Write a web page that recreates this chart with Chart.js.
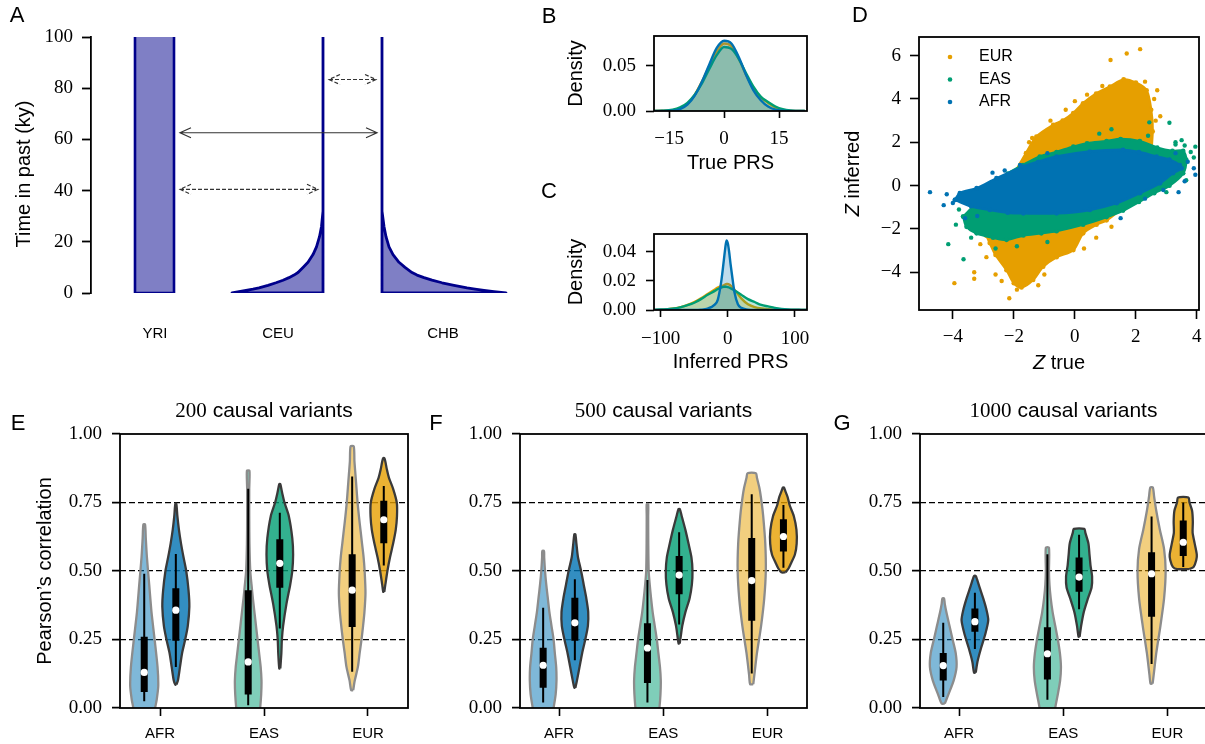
<!DOCTYPE html>
<html>
<head>
<meta charset="utf-8">
<script src="https://cdn.jsdelivr.net/npm/chart.js@4.4.0/dist/chart.umd.min.js"></script>
<style>
  body { margin: 0; background: #fff; width: 1205px; height: 744px; overflow: hidden; position: relative; }
  canvas { position: absolute; left: 0; top: 0; }
</style>
</head>
<body>
<canvas id="cA" width="1220" height="744"></canvas>
<canvas id="cB" width="1220" height="744"></canvas>
<canvas id="cC" width="1220" height="744"></canvas>
<canvas id="cD" width="1220" height="744"></canvas>
<canvas id="cE" width="1220" height="744"></canvas>
<canvas id="cF" width="1220" height="744"></canvas>
<canvas id="cG" width="1220" height="744"></canvas>
<script>
// ---------- data ----------
// A: demographic model (sizes in arbitrary width units, time in ky)
const popNames = ['YRI', 'CEU', 'CHB'];
const popLabelX = [64, 187, 352];
const yriEdges = [44, 83];
const ceuEdge = 232;
const chbEdge = 291;
const growthT = [0, 0.5, 1, 1.5, 2, 3, 4, 5, 6, 7, 8, 10, 12, 15, 18, 22, 26, 32, 100];
const ceuWidth = [91, 84, 77, 70, 64, 55, 47, 40, 34, 29, 25, 20, 15, 10, 6.5, 3.5, 1.5, 0, 0];
const chbWidth = [124, 112, 102, 93, 85, 72, 60, 50, 42, 35, 30, 23, 17, 11, 7, 4, 2, 0, 0];
const timeTicks = [0, 20, 40, 60, 80, 100];
const arrowY = [62.6, 40.5, 83.4];
const arrowFrom = [89, 89, 238];
const arrowTo = [286, 227, 285];
const arrowDashed = [false, true, true];

// B: true PRS densities
const bX = [-20, -17, -14, -12, -10, -8, -6, -4, -2, 0, 2, 4, 6, 8, 10, 12, 14, 16, 18, 20, 22];
const bAFR = [0, 0, 0.0003, 0.002, 0.007, 0.017, 0.033, 0.052, 0.07, 0.078, 0.075, 0.06, 0.04, 0.023, 0.012, 0.005, 0.0015, 0.0003, 0, 0, 0];
const bEAS = [0, 0.0003, 0.0015, 0.004, 0.009, 0.018, 0.031, 0.047, 0.062, 0.071, 0.069, 0.058, 0.042, 0.027, 0.016, 0.01, 0.005, 0.002, 0.0005, 0.0001, 0];
const bEUR = [0, 0.0002, 0.001, 0.003, 0.008, 0.018, 0.033, 0.05, 0.066, 0.075, 0.072, 0.058, 0.04, 0.025, 0.015, 0.009, 0.004, 0.001, 0.0003, 0, 0];
const bTicksX = [-15, 0, 15];
const bTicksY = [0, 0.05];

// C: inferred PRS densities
const cX = [-110, -100, -90, -80, -70, -60, -50, -40, -30, -20, -15, -10, -6, -4, -2, 0, 2, 4, 6, 10, 15, 20, 30, 40, 50, 60, 70, 80, 90, 100, 110, 118];
const cAFR = [0, 0, 0, 0, 0, 0, 0, 0.0002, 0.001, 0.0035, 0.007, 0.019, 0.034, 0.042, 0.048, 0.046, 0.04, 0.032, 0.025, 0.012, 0.004, 0.0015, 0.0003, 0, 0, 0, 0, 0, 0, 0, 0, 0];
const cEAS = [0.0001, 0.0003, 0.0006, 0.001, 0.002, 0.0033, 0.005, 0.0075, 0.0105, 0.013, 0.0145, 0.0155, 0.016, 0.016, 0.016, 0.0158, 0.0155, 0.015, 0.0145, 0.0135, 0.012, 0.0105, 0.0075, 0.0055, 0.0035, 0.0025, 0.0015, 0.0008, 0.0004, 0.0002, 0.0001, 0];
const cEUR = [0, 0.0002, 0.0005, 0.001, 0.002, 0.0035, 0.0055, 0.008, 0.011, 0.014, 0.0155, 0.0165, 0.017, 0.0175, 0.018, 0.018, 0.0175, 0.017, 0.016, 0.014, 0.011, 0.008, 0.004, 0.002, 0.001, 0.0005, 0.0002, 0, 0, 0, 0, 0];
const cTicksX = [-100, 0, 100];
const cTicksY = [0, 0.02, 0.04];

// D: Z true vs Z inferred, outline of each dense cloud plus its stray points
const eurCloud = [[-2.9, -2.3], [-2.79, -2.65], [-2.6, -3.2], [-2.24, -3.9], [-2.0, -4.5], [-1.75, -4.7], [-1.37, -4.35], [-1.04, -3.74], [-0.6, -3.3], [-0.05, -2.97], [0.27, -2.2], [0.71, -1.8], [1.04, -1.6], [1.5, -1.1], [1.9, -0.6], [2.3, 0.2], [2.45, 1], [2.55, 2.5], [2.5, 3.5], [2.35, 4.4], [2.0, 4.75], [1.6, 4.9], [1.15, 4.57], [0.7, 4.25], [0.27, 3.8], [-0.05, 3.35], [-0.4, 3.0], [-0.71, 2.8], [-1.26, 2.26], [-1.6, 1.5], [-2.0, 0.5], [-2.4, -0.8], [-2.8, -1.8]];
const easCloud = [[-3.66, -1.43], [-3.55, -1.9], [-3.22, -2.2], [-2.68, -2.4], [-2.24, -2.5], [-1.69, -2.3], [-1.1, -2.2], [-0.6, -2.1], [0.27, -1.8], [1.04, -1.45], [1.58, -1.15], [2.1, -0.75], [2.6, -0.35], [3.1, 0.0], [3.55, 0.57], [3.65, 1.2], [3.55, 1.6], [3.2, 1.6], [2.7, 1.75], [2.13, 2.05], [1.5, 2.15], [1.04, 2.05], [0.4, 1.95], [-0.05, 1.8], [-0.6, 1.55], [-1.15, 1.34], [-1.7, 0.95], [-2.2, 0.55], [-2.7, 0.0], [-3.22, -0.8]];
const afrCloud = [[-3.93, -0.66], [-3.4, -0.95], [-2.79, -1.12], [-2.2, -1.25], [-1.69, -1.28], [-0.6, -1.28], [0.49, -1.12], [1.37, -0.81], [2.13, -0.35], [2.79, 0.11], [3.22, 0.58], [3.5, 0.8], [3.44, 0.95], [3.1, 1.2], [2.68, 1.34], [2.1, 1.55], [1.58, 1.65], [0.49, 1.57], [-0.6, 1.34], [-1.2, 1.1], [-1.69, 0.88], [-2.57, 0.34], [-3.22, -0.12], [-3.77, -0.35]];
const eurStray = [[1.17, 5.8], [1.7, 6.1], [2.14, 6.3], [2.7, 4.4], [2.6, 4.0], [2.3, 4.8], [2.65, 3.0], [-3.95, -4.5], [-3.3, -4.0], [-3.3, -4.3], [-2.15, -5.2], [-1.2, -4.6], [-1.9, -4.8], [-2.6, -4.1], [-2.9, -3.3], [-3.1, -2.7], [0.3, -2.9], [0.7, -2.4], [1.2, -1.9], [-1.4, 2.2], [-1.5, 2.0], [-0.8, 3.0], [-0.3, 3.5], [0.0, 3.9], [0.4, 4.2], [0.9, 4.6], [2.8, 3.2], [-1.0, -4.1], [-2.4, -4.4]];
const easStray = [[-4.15, -2.7], [-3.65, -3.4], [3.1, 2.9], [3.65, 0.25], [3.8, 1.55], [2.44, 2.92], [3.3, 2.0], [-3.4, -2.4], [-2.6, -2.9], [1.2, 2.6], [3.9, 1.3], [-3.9, -1.8], [-3.8, -1.1], [3.5, 2.1], [3.95, 1.8], [-1.9, -2.8], [-0.9, -2.6], [2.4, 2.3], [0.8, 2.4], [3.0, -0.3], [-2.9, -0.2], [3.6, 1.85], [3.3, 1.9]];
const afrStray = [[-4.75, -0.3], [3.9, 0.8], [-4.0, -0.8], [-4.2, -0.4], [-3.6, -1.5], [3.6, 0.2], [-2.7, 0.6], [1.5, -1.5], [2.3, -0.6], [3.3, 1.5], [-1.8, 0.95], [3.7, 1.1], [3.95, 0.5], [-4.3, -0.9], [-3.2, -1.4], [2.9, -0.2], [-0.9, 1.5], [3.4, -0.3], [-2.3, 0.7]];
const dTicksX = [-4, -2, 0, 2, 4];
const dTicksY = [-4, -2, 0, 2, 4, 6];
const dLegend = ['EUR', 'EAS', 'AFR'];

// E-G: Pearson's correlation violins; order AFR(inferred, true), EAS(..), EUR(..)
// each outline as [correlation, half width in category units], box as [low, q1, median, q3, high]
const groups = ['AFR', 'EAS', 'EUR'];
const variantCounts = ['200', '500', '1000'];
const corrTicks = [0, 0.25, 0.5, 0.75, 1];

const shapeE = [
  [[-0.05, 0.09], [0, 0.105], [0.03, 0.12], [0.08, 0.135], [0.15, 0.128], [0.25, 0.1], [0.35, 0.07], [0.45, 0.048], [0.55, 0.026], [0.62, 0.015], [0.67, 0.008]],
  [[0.085, 0.005], [0.1, 0.02], [0.15, 0.04], [0.2, 0.06], [0.25, 0.09], [0.3, 0.115], [0.37, 0.13], [0.43, 0.122], [0.5, 0.1], [0.55, 0.074], [0.6, 0.05], [0.65, 0.03], [0.7, 0.015], [0.745, 0.005]],
  [[-0.05, 0.1], [0, 0.115], [0.05, 0.125], [0.1, 0.128], [0.15, 0.12], [0.2, 0.105], [0.25, 0.09], [0.3, 0.075], [0.35, 0.06], [0.4, 0.045], [0.45, 0.032], [0.5, 0.02], [0.6, 0.012], [0.7, 0.01], [0.8, 0.01], [0.866, 0.012]],
  [[0.144, 0.005], [0.2, 0.015], [0.25, 0.02], [0.3, 0.032], [0.38, 0.064], [0.45, 0.1], [0.5, 0.12], [0.56, 0.128], [0.62, 0.12], [0.7, 0.087], [0.75, 0.045], [0.79, 0.02], [0.817, 0.005]],
  [[0.065, 0.01], [0.1, 0.025], [0.15, 0.055], [0.2, 0.072], [0.25, 0.09], [0.3, 0.105], [0.35, 0.118], [0.42, 0.128], [0.5, 0.12], [0.55, 0.11], [0.6, 0.095], [0.65, 0.08], [0.7, 0.065], [0.75, 0.052], [0.8, 0.042], [0.85, 0.032], [0.9, 0.022], [0.955, 0.015]],
  [[0.424, 0.005], [0.45, 0.015], [0.5, 0.035], [0.55, 0.06], [0.6, 0.09], [0.65, 0.115], [0.7, 0.127], [0.75, 0.125], [0.8, 0.09], [0.84, 0.05], [0.87, 0.03], [0.9, 0.015], [0.912, 0.005]]
];
const boxE = [[0.025, 0.058, 0.13, 0.26, 0.49], [0.15, 0.245, 0.357, 0.437, 0.562], [0.01, 0.049, 0.168, 0.43, 0.8],
  [0.29, 0.439, 0.528, 0.616, 0.713], [0.132, 0.296, 0.43, 0.561, 0.845], [0.52, 0.601, 0.687, 0.756, 0.81]];

const shapeF = [
  [[-0.05, 0.08], [0, 0.1], [0.05, 0.12], [0.1, 0.128], [0.15, 0.125], [0.2, 0.112], [0.25, 0.1], [0.3, 0.08], [0.35, 0.06], [0.4, 0.045], [0.45, 0.03], [0.5, 0.018], [0.55, 0.01], [0.573, 0.008]],
  [[0.074, 0.005], [0.1, 0.02], [0.15, 0.045], [0.2, 0.07], [0.25, 0.1], [0.3, 0.125], [0.35, 0.128], [0.4, 0.11], [0.45, 0.085], [0.5, 0.06], [0.55, 0.03], [0.6, 0.015], [0.634, 0.005]],
  [[-0.05, 0.1], [0, 0.115], [0.05, 0.125], [0.1, 0.128], [0.15, 0.12], [0.2, 0.105], [0.25, 0.09], [0.3, 0.07], [0.35, 0.05], [0.4, 0.035], [0.45, 0.022], [0.5, 0.012], [0.6, 0.008], [0.7, 0.007], [0.744, 0.007]],
  [[0.235, 0.005], [0.26, 0.015], [0.3, 0.03], [0.35, 0.06], [0.4, 0.1], [0.45, 0.122], [0.5, 0.128], [0.55, 0.118], [0.6, 0.09], [0.65, 0.06], [0.7, 0.025], [0.726, 0.006]],
  [[0.087, 0.015], [0.12, 0.025], [0.2, 0.05], [0.3, 0.09], [0.4, 0.12], [0.5, 0.135], [0.6, 0.13], [0.7, 0.11], [0.75, 0.095], [0.8, 0.075], [0.84, 0.05], [0.857, 0.04]],
  [[0.495, 0.02], [0.51, 0.05], [0.53, 0.075], [0.56, 0.11], [0.6, 0.127], [0.65, 0.125], [0.7, 0.1], [0.74, 0.06], [0.77, 0.04], [0.79, 0.02], [0.805, 0.005]]
];
const boxF = [[0.02, 0.074, 0.156, 0.22, 0.366], [0.174, 0.245, 0.311, 0.402, 0.47], [0.02, 0.091, 0.219, 0.309, 0.467],
  [0.305, 0.415, 0.485, 0.555, 0.641], [0.126, 0.318, 0.465, 0.62, 0.78], [0.512, 0.571, 0.626, 0.689, 0.741]];

const shapeG = [
  [[0.016, 0.015], [0.05, 0.05], [0.1, 0.1], [0.15, 0.128], [0.2, 0.12], [0.25, 0.09], [0.3, 0.06], [0.35, 0.03], [0.38, 0.015], [0.4, 0.008]],
  [[0.129, 0.008], [0.17, 0.025], [0.22, 0.06], [0.27, 0.1], [0.32, 0.128], [0.36, 0.11], [0.4, 0.08], [0.44, 0.045], [0.47, 0.02], [0.482, 0.008]],
  [[-0.05, 0.06], [0, 0.075], [0.05, 0.1], [0.1, 0.122], [0.15, 0.13], [0.2, 0.12], [0.25, 0.1], [0.3, 0.075], [0.35, 0.05], [0.4, 0.032], [0.45, 0.02], [0.5, 0.015], [0.585, 0.015]],
  [[0.26, 0.005], [0.3, 0.02], [0.35, 0.045], [0.4, 0.085], [0.44, 0.12], [0.48, 0.125], [0.52, 0.11], [0.56, 0.1], [0.6, 0.09], [0.64, 0.06], [0.654, 0.05]],
  [[0.089, 0.01], [0.12, 0.02], [0.2, 0.045], [0.3, 0.085], [0.4, 0.12], [0.5, 0.135], [0.58, 0.12], [0.65, 0.08], [0.72, 0.045], [0.77, 0.025], [0.805, 0.012]],
  [[0.507, 0.06], [0.515, 0.1], [0.54, 0.125], [0.56, 0.13], [0.6, 0.11], [0.64, 0.09], [0.68, 0.092], [0.72, 0.085], [0.75, 0.06], [0.768, 0.05]]
];
const boxG = [[0.04, 0.1, 0.155, 0.201, 0.311], [0.215, 0.278, 0.315, 0.363, 0.421], [0.03, 0.104, 0.198, 0.295, 0.561],
  [0.36, 0.424, 0.478, 0.549, 0.632], [0.161, 0.333, 0.49, 0.568, 0.699], [0.515, 0.555, 0.605, 0.684, 0.75]];

// ---------- style ----------
const W = 1220, H = 744;
const SANS = '"Liberation Sans", Arial, sans-serif';
const SERIF = '"Liberation Serif", "Times New Roman", serif';
const colAFR = '#0072B2', colEAS = '#009E73', colEUR = '#E69F00';
const lightFill = ['rgba(0,114,178,0.5)', 'rgba(0,158,115,0.5)', 'rgba(230,159,0,0.5)'];
const darkFill = ['rgba(0,114,178,0.8)', 'rgba(0,158,115,0.8)', 'rgba(230,159,0,0.8)'];
const navy = '#00008B';
const minus = v => (v < 0 ? '\u2212' + Math.abs(v) : String(v));

Chart.defaults.color = '#000';
Chart.defaults.elements.point.radius = 0;
Chart.defaults.elements.line.tension = 0;

// free text (panel letters, axis titles with mixed fonts)
function textPlugin(items) {
  return {
    id: 'texts',
    afterDraw(chart) {
      const ctx = chart.ctx;
      items.forEach(it => {
        ctx.save();
        ctx.translate(it.x, it.y);
        if (it.rot) ctx.rotate(it.rot);
        ctx.fillStyle = '#000';
        ctx.textBaseline = 'middle';
        ctx.textAlign = 'left';
        const widths = it.parts.map(p => { ctx.font = p[1]; return ctx.measureText(p[0]).width; });
        let x = -widths.reduce((a, b) => a + b, 0) / 2;
        it.parts.forEach((p, i) => { ctx.font = p[1]; ctx.fillText(p[0], x, 0); x += widths[i]; });
        ctx.restore();
      });
    }
  };
}

// box around the plotting area
const framePlugin = {
  id: 'frame',
  afterDraw(chart) {
    const { left, right, top, bottom } = chart.chartArea;
    const ctx = chart.ctx;
    ctx.save();
    ctx.strokeStyle = '#000';
    ctx.lineWidth = 1.8;
    ctx.strokeRect(left, top, right - left, bottom - top);
    ctx.restore();
  }
};

function tickAxis(ticks, fmt, font, pad, extra) {
  return Object.assign({
    type: 'linear',
    afterBuildTicks: s => { s.ticks = ticks.map(v => ({ value: v })); },
    ticks: { callback: fmt, font, padding: pad, autoSkip: false, maxRotation: 0, color: '#000' },
    grid: { drawOnChartArea: false, tickLength: 8, tickWidth: 1.6, tickColor: '#000' },
    border: { display: false }
  }, extra);
}

function build(id, box, datasets, scales, plugins) {
  scales.x.afterFit = s => { s.height = box.xh; };
  scales.y.afterFit = s => { s.width = box.yw; };
  return new Chart(document.getElementById(id), {
    type: 'line',
    data: { datasets },
    options: {
      responsive: false,
      animation: false,
      events: [],
      layout: { padding: { left: box.l - box.yw, top: box.t, right: W - box.r, bottom: H - box.b - box.xh } },
      plugins: { legend: { display: false }, tooltip: { enabled: false } },
      scales
    },
    plugins
  });
}

const serifTicks = { family: 'Liberation Serif', size: 19 };
const sansTicks = { family: 'Liberation Sans', size: 15 };
const plainTicks = len => ({ drawOnChartArea: false, tickLength: len, tickWidth: 1.6, tickColor: '#000' });

// ---------- A ----------
const arrowPlugin = {
  id: 'arrows',
  afterDatasetsDraw(chart) {
    const ctx = chart.ctx, xs = chart.scales.x, ys = chart.scales.y;
    arrowY.forEach((yv, i) => {
      const x1 = xs.getPixelForValue(arrowFrom[i]), x2 = xs.getPixelForValue(arrowTo[i]);
      const y = ys.getPixelForValue(yv);
      ctx.save();
      ctx.strokeStyle = '#333';
      ctx.lineWidth = 1.2;
      ctx.setLineDash(arrowDashed[i] ? [4, 2] : []);
      ctx.beginPath();
      ctx.moveTo(x1, y); ctx.lineTo(x2, y);
      ctx.moveTo(x1 + 11, y - 5); ctx.lineTo(x1, y); ctx.lineTo(x1 + 11, y + 5);
      ctx.moveTo(x2 - 11, y - 5); ctx.lineTo(x2, y); ctx.lineTo(x2 - 11, y + 5);
      ctx.stroke();
      ctx.restore();
    });
  }
};

const yriFill = [yriEdges[0], yriEdges[0], yriEdges[1], yriEdges[1]].map((x, i) => ({ x, y: [0, 100, 100, 0][i] }));
const yriLine = [yriEdges[0], yriEdges[0], yriEdges[1], yriEdges[1]].map((x, i) => ({ x, y: [100, 0, 0, 100][i] }));
const ceuPts = [{ x: ceuEdge, y: 100 }, { x: ceuEdge, y: 0 }].concat(growthT.map((t, i) => ({ x: ceuEdge - ceuWidth[i], y: t })));
const chbPts = [{ x: chbEdge, y: 100 }, { x: chbEdge, y: 0 }].concat(growthT.map((t, i) => ({ x: chbEdge + chbWidth[i], y: t })));
const demoStyle = { fill: 'shape', backgroundColor: 'rgba(0,0,139,0.5)', borderColor: navy, borderWidth: 2.8, borderJoinStyle: 'round' };

build('cA', { l: 91, r: 521, t: 37, b: 293, yw: 83, xh: 60 }, [
  { data: yriLine, borderColor: navy, borderWidth: 2.6, fill: false },
  { data: yriFill, fill: 'shape', backgroundColor: 'rgba(0,0,139,0.5)', borderWidth: 0 },
  Object.assign({ data: ceuPts }, demoStyle),
  Object.assign({ data: chbPts }, demoStyle)
], {
  x: tickAxis(popLabelX, (v, i) => popNames[i], sansTicks, 24, { min: 0, max: 430, grid: { display: false } }),
  y: tickAxis(timeTicks, v => String(v), serifTicks, 9, {
    min: 0, max: 100,
    grid: { drawOnChartArea: false, tickLength: 9, tickWidth: 1.8, tickColor: '#000' },
    border: { display: true, width: 1.8, color: '#000' }
  })
}, [arrowPlugin, textPlugin([
  { x: 17, y: 16, parts: [['A', '22px ' + SANS]] },
  { x: 24, y: 174, rot: -Math.PI / 2, parts: [['Time in past (ky)', '20px ' + SANS]] }
])]);

// ---------- B and C ----------
function densitySets(xs, series) {
  return series.map(([vals, col]) => ({
    data: xs.map((x, i) => ({ x, y: vals[i] })),
    fill: 'origin',
    backgroundColor: col + '40',
    borderColor: col,
    borderWidth: 2.4,
    cubicInterpolationMode: 'monotone'
  }));
}

build('cB', { l: 654, r: 807, t: 36, b: 111, yw: 94, xh: 68 },
  densitySets(bX, [[bAFR, colAFR], [bEAS, colEAS], [bEUR, colEUR]]), {
    x: tickAxis(bTicksX, minus, serifTicks, 10, { min: -19.1, max: 22.6, grid: plainTicks(7) }),
    y: tickAxis(bTicksY, v => v.toFixed(2), serifTicks, 10, { min: 0, max: 0.0833, grid: plainTicks(8) })
  }, [framePlugin, textPlugin([
    { x: 549, y: 17, parts: [['B', '22px ' + SANS]] },
    { x: 576, y: 73.5, rot: -Math.PI / 2, parts: [['Density', '20px ' + SANS]] },
    { x: 730.5, y: 163, parts: [['True PRS', '20px ' + SANS]] }
  ])]);

build('cC', { l: 654, r: 807, t: 234, b: 310, yw: 94, xh: 68 },
  densitySets(cX, [[cAFR, colAFR], [cEAS, colEAS], [cEUR, colEUR]]), {
    x: tickAxis(cTicksX, minus, serifTicks, 11, { min: -110, max: 118, grid: plainTicks(7) }),
    y: tickAxis(cTicksY, v => v.toFixed(2), serifTicks, 10, { min: 0, max: 0.0524, grid: plainTicks(8) })
  }, [framePlugin, textPlugin([
    { x: 549, y: 192, parts: [['C', '22px ' + SANS]] },
    { x: 576, y: 272, rot: -Math.PI / 2, parts: [['Density', '20px ' + SANS]] },
    { x: 730.5, y: 362, parts: [['Inferred PRS', '20px ' + SANS]] }
  ])]);

// ---------- D ----------
const toPts = arr => arr.map(([x, y]) => ({ x, y }));
const closed = arr => { const p = toPts(arr); p.push(p[0]); return p; };
function cloudSets(cloud, stray, col) {
  return [
    { data: toPts(stray), showLine: false, pointRadius: 2.2, pointBackgroundColor: col, pointBorderWidth: 0 },
    { data: closed(cloud), fill: 'shape', backgroundColor: col, borderColor: col, borderWidth: 2.5, tension: 0.3,
      pointRadius: 2.4, pointBackgroundColor: col, pointBorderWidth: 0 }
  ];
}
const legendPlugin = {
  id: 'dlegend',
  afterDraw(chart) {
    const ctx = chart.ctx;
    const cols = [colEUR, colEAS, colAFR];
    dLegend.forEach((name, i) => {
      const y = 57 + i * 22.5;
      ctx.save();
      ctx.fillStyle = cols[i];
      ctx.beginPath(); ctx.arc(950, y, 2.3, 0, Math.PI * 2); ctx.fill();
      ctx.fillStyle = '#000';
      ctx.font = '16px ' + SANS;
      ctx.textBaseline = 'middle';
      ctx.fillText(name, 979, y);
      ctx.restore();
    });
  }
};
build('cD', { l: 919, r: 1199, t: 37, b: 310, yw: 82, xh: 50 },
  [].concat(cloudSets(afrCloud, afrStray, colAFR), cloudSets(easCloud, easStray, colEAS), cloudSets(eurCloud, eurStray, colEUR)), {
    x: tickAxis(dTicksX, minus, serifTicks, 7, { min: -5.11, max: 4.07, grid: plainTicks(9) }),
    y: tickAxis(dTicksY, minus, serifTicks, 9, { min: -5.74, max: 6.86, grid: plainTicks(9) })
  }, [framePlugin, legendPlugin, textPlugin([
    { x: 860, y: 16, parts: [['D', '22px ' + SANS]] },
    { x: 853, y: 173.5, rot: -Math.PI / 2, parts: [['Z', 'italic 20px ' + SANS], [' inferred', '20px ' + SANS]] },
    { x: 1059, y: 363, parts: [['Z', 'italic 20px ' + SANS], [' true', '20px ' + SANS]] }
  ])]);

// ---------- E, F, G ----------
const dodge = 0.152;
function violinSets(shapes, boxes) {
  const polys = [], whisk = [], thick = [], meds = [];
  shapes.forEach((sh, i) => {
    const g = Math.floor(i / 2), side = i % 2 ? 1 : -1, cx = g + side * dodge;
    const right = sh.map(([v, w]) => ({ x: cx + w, y: v }));
    const left = sh.slice().reverse().map(([v, w]) => ({ x: cx - w, y: v }));
    const pts = right.concat(left);
    pts.push(pts[0]);
    polys.push({
      data: pts, fill: 'shape', tension: 0.25,
      backgroundColor: side < 0 ? lightFill[g] : darkFill[g],
      borderColor: side < 0 ? '#8c8c8c' : '#3a3a3a',
      borderWidth: 2.3
    });
    const [lo, q1, med, q3, hi] = boxes[i];
    whisk.push({ x: cx, y: lo }, { x: cx, y: hi }, { x: cx, y: null });
    thick.push({ x: cx, y: q1 }, { x: cx, y: q3 }, { x: cx, y: null });
    meds.push({ x: cx, y: med });
  });
  return [
    { data: meds, showLine: false, pointRadius: 3.6, pointBackgroundColor: '#fff', pointBorderWidth: 0 },
    { data: thick, borderColor: '#000', borderWidth: 7, borderCapStyle: 'butt', spanGaps: false },
    { data: whisk, borderColor: '#000', borderWidth: 2, borderCapStyle: 'butt', spanGaps: false }
  ].concat(polys);
}

function corrAxes(xmin, xmax) {
  return {
    x: tickAxis([0, 1, 2], v => groups[v], sansTicks, 9, { min: xmin, max: xmax }),
    y: tickAxis(corrTicks, v => v.toFixed(2), serifTicks, 10, {
      min: 0, max: 1,
      grid: {
        drawOnChartArea: true,
        color: c => (c.tick && (c.tick.value === 0 || c.tick.value === 1)) ? 'rgba(0,0,0,0)' : '#000',
        lineWidth: 1.2,
        tickLength: 8, tickWidth: 1.6, tickColor: '#000', tickBorderDash: [1, 0]
      },
      border: { display: false, dash: [6, 3] }
    })
  };
}

const violinPanels = [
  ['cE', 'E', shapeE, boxE, 120, 408, -0.385, 2.385, 18],
  ['cF', 'F', shapeF, boxF, 520, 807, -0.374, 2.378, 436],
  ['cG', 'G', shapeG, boxG, 920, 1207, -0.375, 2.38, 842]
];
violinPanels.forEach(([id, letter, shapes, boxes, l, r, xmin, xmax, lx], k) => {
  const texts = [
    { x: lx, y: 424, parts: [[letter, '22px ' + SANS]] },
    { x: (l + r) / 2, y: 411, parts: [[variantCounts[k], '21px ' + SERIF], [' causal variants', '21px ' + SANS]] }
  ];
  if (k === 0) texts.push({ x: 45, y: 571, rot: -Math.PI / 2, parts: [['Pearson\u2019s correlation', '20px ' + SANS]] });
  build(id, { l, r, t: 434, b: 708, yw: 91, xh: 36 }, violinSets(shapes, boxes), corrAxes(xmin, xmax), [framePlugin, textPlugin(texts)]);
});
</script>
</body>
</html>
